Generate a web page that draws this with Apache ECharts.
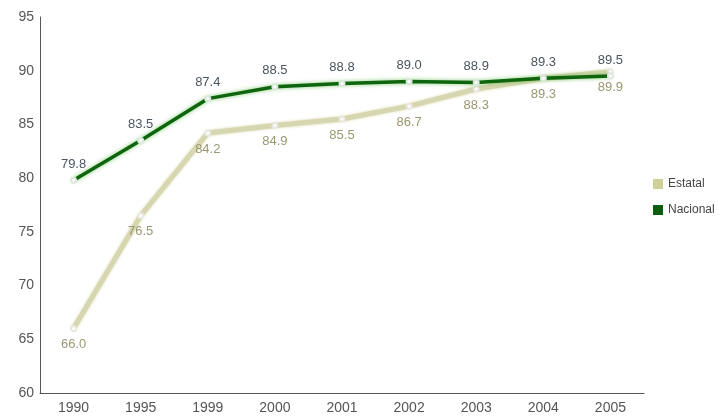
<!DOCTYPE html>
<html><head><meta charset="utf-8">
<script src="https://cdn.jsdelivr.net/npm/echarts@6/dist/echarts.min.js"></script>
<style>html,body{margin:0;padding:0;background:#fff}#c{width:725px;height:417px}</style>
</head><body><div id="c"></div>
<script>
var years = ['1990','1995','1999','2000','2001','2002','2003','2004','2005'];
var estatal = [66.0, 76.5, 84.2, 84.9, 85.5, 86.7, 88.3, 89.3, 89.9];
var nacional = [79.8, 83.5, 87.4, 88.5, 88.8, 89.0, 88.9, 89.3, 89.5];
var yTicks = [60, 65, 70, 75, 80, 85, 90, 95];

var chart = echarts.init(document.getElementById('c'));
chart.setOption({
  animation: false,
  backgroundColor: '#fff',
  grid: {left: 40, right: 81, top: 17, bottom: 24, containLabel: false},
  legend: {
    orient: 'vertical', left: 648, top: 173, itemWidth: 10, itemHeight: 10, itemGap: 14,
    textStyle: {color: '#444', fontSize: 12, fontFamily: 'Liberation Sans, Arial'},
    data: [
      {name: 'Estatal', icon: 'rect', itemStyle: {color: '#cfcf98', borderWidth: 0}},
      {name: 'Nacional', icon: 'rect', itemStyle: {color: '#0b5e0b', borderWidth: 0}}
    ]
  },
  xAxis: {
    type: 'category', data: years, boundaryGap: true,
    axisLine: {lineStyle: {color: '#555', width: 1}},
    axisTick: {show: false},
    axisLabel: {color: '#555', fontSize: 14, margin: 8, fontFamily: 'Liberation Sans, Arial'}
  },
  yAxis: {
    type: 'value', min: yTicks[0], max: yTicks[yTicks.length - 1], interval: 5,
    axisLine: {show: true, lineStyle: {color: '#555', width: 1}},
    axisTick: {show: false},
    splitLine: {show: false},
    axisLabel: {color: '#555', fontSize: 14, margin: 6, fontFamily: 'Liberation Sans, Arial'}
  },
  series: [
    {
      name: 'Estatal', type: 'line', data: estatal, color: '#cdcd95',
      lineStyle: {color: '#d6d6b0', width: 5, shadowColor: 'rgba(190,190,110,0.6)', shadowBlur: 3},
      symbol: 'emptyCircle', symbolSize: 5,
      itemStyle: {color: '#e8e8e0', borderColor: '#888', borderWidth: 1},
      label: {show: true, position: 'bottom', distance: 6, color: '#9a9870', fontSize: 13,
        fontFamily: 'Liberation Sans, Arial', formatter: function(p){return p.value.toFixed(1);}},
      z: 2
    },
    {
      name: 'Nacional', type: 'line', data: nacional, color: '#0a5e0a',
      lineStyle: {color: '#0e650e', width: 3.5, shadowColor: 'rgba(80,180,60,0.7)', shadowBlur: 4},
      symbol: 'emptyCircle', symbolSize: 5,
      itemStyle: {color: '#dde8dd', borderColor: '#777', borderWidth: 1},
      label: {show: true, position: 'top', distance: 6, color: '#4a5560', fontSize: 13,
        fontFamily: 'Liberation Sans, Arial', formatter: function(p){return p.value.toFixed(1);}},
      z: 3
    }
  ]
});
</script></body></html>
